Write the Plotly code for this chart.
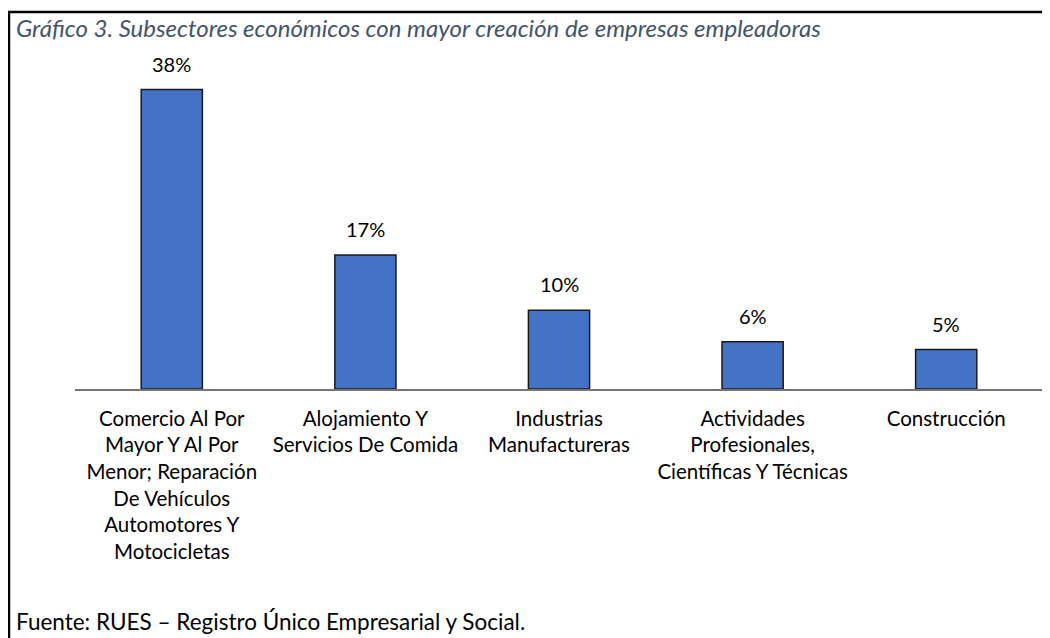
import plotly.graph_objects as go

categories = [
    "Comercio Al Por<br>Mayor Y Al Por<br>Menor; Reparación<br>De Vehículos<br>Automotores Y<br>Motocicletas",
    "Alojamiento Y<br>Servicios De Comida",
    "Industrias<br>Manufactureras",
    "Actividades<br>Profesionales,<br>Científicas Y Técnicas",
    "Construcción",
]
values = [38, 17, 10, 6, 5]
value_labels = ["38%", "17%", "10%", "6%", "5%"]
title_text = "Gráfico 3. Subsectores económicos con mayor creación de empresas empleadoras"
source_text = "Fuente: RUES – Registro Único Empresarial y Social."

# page has an 8px body margin; work in page pixels and convert
OFF = 8
W, H = 1050 - OFF, 638 - OFF
PL, PR, PT, PB = 75, 1043, 73, 389  # plot area in page pixels
L, T = PL - OFF, PT - OFF
R = W - (PR - OFF)
B = H - (PB - OFF)
pw, ph = W - L - R, H - T - B

def px_x(x):
    return (x - OFF - L) / pw

def px_y(y):
    return (PB - y) / ph

FONT = "Lato"

fig = go.Figure()
fig.add_trace(go.Bar(
    x=list(range(len(categories))), y=values,
    width=0.316,
    marker=dict(color="#4472C4", line=dict(color="#1a1a1a", width=1.5)),
    hoverinfo="skip",
))

for i, (v, lab) in enumerate(zip(values, value_labels)):
    fig.add_annotation(x=i, y=v, text=lab, showarrow=False, yanchor="bottom",
                       yshift=12, font=dict(family=FONT, size=20, color="#000000"))

fig.update_layout(
    width=W, height=H,
    margin=dict(l=L, r=R, t=T, b=B, autoexpand=False),
    paper_bgcolor="white", plot_bgcolor="white",
    showlegend=False,
    xaxis=dict(
        tickmode="array", tickvals=list(range(len(categories))), ticktext=categories,
        range=[-0.5, len(categories) - 0.5],
        showline=True, linecolor="#767676", linewidth=2,
        showgrid=False, zeroline=False, ticks="", ticklen=0,
        ticklabelstandoff=10,
        tickfont=dict(family=FONT, size=20.5, color="#000000"),
        tickangle=0, fixedrange=True,
    ),
    yaxis=dict(range=[0, 40.1], visible=False, fixedrange=True),
    shapes=[dict(
        type="rect", xref="paper", yref="paper",
        x0=px_x(9), x1=px_x(1070), y0=px_y(660), y1=px_y(12),
        line=dict(color="#000000", width=2.5), fillcolor="rgba(0,0,0,0)", layer="above",
    )],
)

fig.add_annotation(xref="paper", yref="paper", x=px_x(14), y=px_y(28),
                   xanchor="left", yanchor="middle", showarrow=False,
                   text="<i>" + title_text + "</i>",
                   font=dict(family=FONT, size=24, color="#44546A"))
fig.add_annotation(xref="paper", yref="paper", x=px_x(14), y=px_y(621),
                   xanchor="left", yanchor="middle", showarrow=False,
                   text=source_text,
                   font=dict(family=FONT, size=22.5, color="#000000"))

fig.write_html("out.html")
